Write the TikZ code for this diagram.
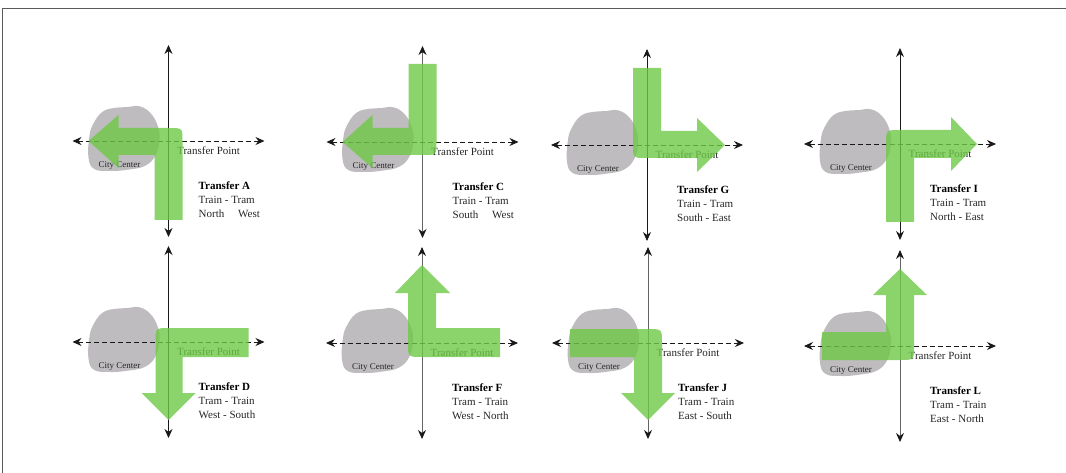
\documentclass[tikz,border=0pt]{standalone}
\usepackage{fontspec}
\setmainfont{Liberation Serif}
\usetikzlibrary{arrows.meta}
\definecolor{grn}{RGB}{110,200,70}
\definecolor{blobc}{RGB}{190,188,191}
\definecolor{axc}{RGB}{25,25,25}
\definecolor{axg}{RGB}{100,100,100}
\definecolor{framec}{RGB}{90,90,90}
\tikzset{
  tipst/.tip={Stealth[length=9pt,width=8pt,inset=3pt,color=axc]},
  axisline/.style={line width=0.9pt, draw=axc, tipst-tipst},
  haxis/.style={axisline, dash pattern=on 5pt off 3pt},
  flow/.style={fill=grn, fill opacity=0.8},
  cc/.style={font=\fontsize{9}{10}\selectfont, inner sep=0pt, text=black!85},
  tp/.style={font=\fontsize{11}{12}\selectfont, inner sep=0pt, anchor=west, text=black!85},
  hd/.style={font=\bfseries\fontsize{11}{12}\selectfont, inner sep=0pt, anchor=west},
  bd/.style={font=\fontsize{11}{12}\selectfont, inner sep=0pt, anchor=west, text=black!85},
  blobstyle/.style={fill=blobc},
}
\newcommand{\panelbase}[7]{%
\begin{scope}[shift={(#2,#3)}]
  \fill[blobstyle] plot[smooth cycle, tension=0.7] coordinates {(-79.3,-3) (-75.7,-16.2) (-65.8,-29.4) (-51.6,-33.4) (-41,-34) (-28.9,-34.7) (-18.2,-28.1) (-11.1,-16.2) (-9,-3) (-12.5,13.5) (-23.2,24.7) (-41,28.7) (-58.7,30) (-74.3,28) (-80,16.8)};
  \coordinate (#1N) at (0,-96);
  \coordinate (#1S) at (0,96);
  \coordinate (#1W) at (-96,0);
  \coordinate (#1E) at (96,0);
  \draw[axisline, draw=#7] (#1S) -- (#1N);
  \draw[haxis] (#1W) -- (#1E);
  \node[cc] (#1cc) at (-49,24) {City Center};
  \node[tp] (#1tp) at (8.5,10) {Transfer Point};
  \node[hd] (#1h) at (30,44.5) {#4};
  \node[bd] (#1m) at (30,58.5) {#5};
  \node[bd] (#1d) at (30,72.5) {#6};
\end{scope}}
\begin{document}
\begin{tikzpicture}[x=1pt,y=-1pt]
\useasboundingbox (0,0) rectangle (1066,473);
\coordinate (frTL) at (2,8);
\coordinate (frTR) at (1066,8);
\coordinate (frBL) at (2,473);
\draw[framec, line width=0.8pt] (frBL) -- (frTL) -- (frTR);

\panelbase{A}{168.5}{141}{Transfer A}{Train - Tram}{North \quad West}{axc}
\panelbase{C}{422.5}{142}{Transfer C}{Train - Tram}{South \quad West}{axg}
\panelbase{G}{647}{145}{Transfer G}{Train - Tram}{South - East}{axc}
\panelbase{I}{900}{144}{Transfer I}{Train - Tram}{North - East}{axc}
\panelbase{D}{168.5}{342}{Transfer D}{Tram - Train}{West - South}{axc}
\panelbase{F}{422}{343}{Transfer F}{Tram - Train}{West - North}{axg}
\panelbase{J}{648}{343}{Transfer J}{Tram - Train}{East - South}{axg}
\panelbase{L}{900}{346}{Transfer L}{Tram - Train}{East - North}{axg}

% green transfer arrows
\begin{scope}[shift={(168.5,141)}]
  \fill[flow] (-14,79) -- (-14,14) -- (-50,14) -- (-50,27) -- (-80,0) -- (-50,-26) -- (-50,-13) -- (1,-13) .. controls (14,-13) .. (14,0) -- (14,79) -- cycle;
\end{scope}
\begin{scope}[shift={(422.5,142)}]
  \fill[flow] (-14,-78) -- (14,-78) -- (14,0) .. controls (14,13) .. (1,13) -- (-50,13) -- (-50,26) -- (-80,0) -- (-50,-27) -- (-50,-14) -- (-14,-14) -- cycle;
\end{scope}
\begin{scope}[shift={(647,145)}]
  \fill[flow] (-14,-77) -- (14,-77) -- (14,-14) -- (50,-14) -- (50,-27) -- (78,0) -- (50,27) -- (50,13) -- (-1,13) .. controls (-14,13) .. (-14,0) -- cycle;
\end{scope}
\begin{scope}[shift={(900,144)}]
  \fill[flow] (-14,78) -- (-14,0) .. controls (-14,-14) .. (0,-14) -- (51,-14) -- (51,-27) -- (77,0) -- (51,27) -- (51,14) -- (14,14) -- (14,78) -- cycle;
\end{scope}
\begin{scope}[shift={(168.5,342)}]
  \fill[flow] (-13,0) .. controls (-13,-14) .. (1,-14) -- (80,-14) -- (80,15) -- (14,15) -- (14,51) -- (27,51) -- (0,78) -- (-27,51) -- (-13,51) -- cycle;
\end{scope}
\begin{scope}[shift={(422,343)}]
  \fill[flow] (0,-78) -- (28,-50) -- (14,-50) -- (14,-15) -- (78,-15) -- (78,14) -- (0,14) .. controls (-14,14) .. (-14,0) -- (-14,-50) -- (-27,-50) -- cycle;
\end{scope}
\begin{scope}[shift={(648,343)}]
  \fill[flow] (-78,-14) -- (0,-14) .. controls (14,-14) .. (14,0) -- (14,50) -- (27,50) -- (0,77) -- (-27,50) -- (-14,50) -- (-14,14) -- (-78,14) -- cycle;
\end{scope}
\begin{scope}[shift={(900,346)}]
  \fill[flow] (0,-77) -- (27,-51) -- (14,-51) -- (14,0) .. controls (14,14) .. (0,14) -- (-78,14) -- (-78,-14) -- (-14,-14) -- (-14,-51) -- (-27,-51) -- cycle;
\end{scope}
\end{tikzpicture}
\end{document}
